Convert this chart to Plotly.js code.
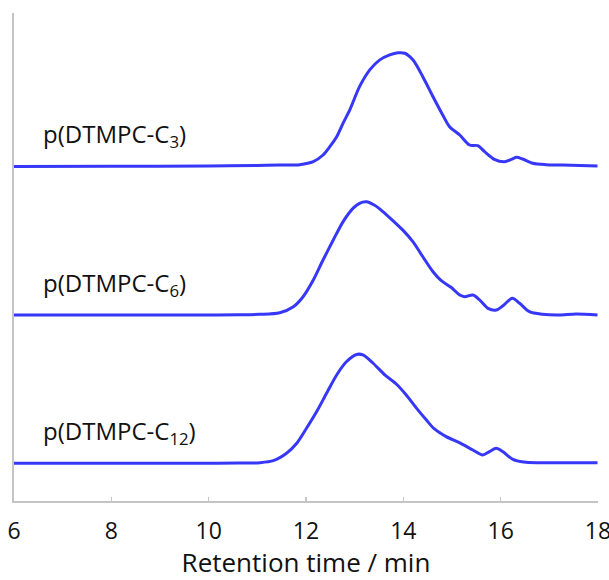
<!DOCTYPE html>
<html>
<head>
<meta charset="utf-8">
<script src="https://cdn.plot.ly/plotly-3.0.1.min.js"></script>
<style>html,body{margin:0;padding:0;background:#fff}#chart{width:609px;height:580px}</style>
</head>
<body>
<div id="chart"></div>
<script>
// Sample names
const sampleNames = ['p(DTMPC-C<sub>3</sub>)', 'p(DTMPC-C<sub>6</sub>)', 'p(DTMPC-C<sub>12</sub>)'];
// Vertical offsets of each trace (stacked display)
const offsets = [68.65, 38.11, 7.73];

// Retention time (min) and relative intensity per sample
const timeC3 = [6.0, 8.0, 10.0, 11.0, 11.46, 11.87, 12.15, 12.35, 12.49, 12.63, 12.76, 12.90, 13.10, 13.31, 13.51, 13.72, 13.89, 14.03, 14.20, 14.40, 14.61, 14.81, 14.95, 15.16, 15.36, 15.53, 15.67, 15.87, 16.08, 16.22, 16.33, 16.45, 16.66, 16.93, 17.27, 17.99];
const signalC3 = [-0.1, -0.05, 0.0, 0.1, 0.2, 0.27, 0.88, 2.25, 3.95, 6.0, 8.75, 11.5, 16.25, 19.7, 21.7, 22.75, 23.2, 23.1, 21.7, 18.3, 14.2, 10.45, 8.05, 6.35, 4.3, 4.16, 2.93, 1.37, 0.88, 1.37, 1.78, 1.43, 0.55, 0.27, 0.2, 0.0];

const timeC6 = [6.0, 8.0, 10.0, 10.6, 11.05, 11.46, 11.74, 11.94, 12.15, 12.35, 12.56, 12.76, 12.97, 13.10, 13.24, 13.41, 13.58, 13.79, 13.99, 14.20, 14.40, 14.61, 14.78, 14.98, 15.16, 15.26, 15.43, 15.57, 15.74, 15.91, 16.04, 16.24, 16.39, 16.59, 16.86, 17.20, 17.55, 17.99];
const signalC6 = [0.0, 0.0, 0.0, 0.05, 0.14, 0.47, 1.7, 3.75, 7.17, 11.27, 15.37, 19.1, 21.9, 22.9, 23.2, 22.5, 21.2, 19.3, 17.4, 15.0, 11.95, 8.87, 7.03, 5.68, 4.1, 3.75, 4.1, 3.07, 1.37, 1.02, 1.84, 3.42, 2.4, 0.68, 0.14, 0.0, 0.2, 0.0];

const timeC12 = [6.0, 8.0, 10.0, 10.6, 11.05, 11.33, 11.60, 11.81, 12.01, 12.22, 12.42, 12.63, 12.83, 13.04, 13.17, 13.38, 13.62, 13.86, 14.06, 14.27, 14.47, 14.64, 14.88, 15.15, 15.43, 15.63, 15.77, 15.91, 16.04, 16.25, 16.52, 17.20, 17.99];
const signalC12 = [0.0, 0.0, 0.0, 0.04, 0.12, 0.53, 2.05, 4.1, 7.17, 10.6, 14.3, 18.1, 20.8, 22.3, 22.2, 20.5, 18.1, 16.2, 14.0, 11.3, 8.9, 7.03, 5.46, 4.23, 2.73, 1.7, 2.4, 3.07, 2.4, 0.82, 0.2, 0.12, 0.12];

const xTicks = [6, 8, 10, 12, 14, 16, 18];

const times = [timeC3, timeC6, timeC12];
const signals = [signalC3, signalC6, signalC12];

const lineColor = '#3737f7';
const axisColor = '#c4c4c4';
const font = 'Open Sans, sans-serif';

const traces = times.map((t, i) => ({
  x: t,
  y: signals[i].map(v => v + offsets[i]),
  type: 'scatter',
  mode: 'lines',
  line: {color: lineColor, width: 3, shape: 'spline', smoothing: 0.8},
  hoverinfo: 'skip',
  showlegend: false
}));

const annotations = sampleNames.map((name, i) => ({
  text: name,
  x: 6.56,
  y: offsets[i] + 6.4,
  xref: 'x', yref: 'y',
  xanchor: 'left', yanchor: 'middle',
  showarrow: false,
  font: {family: font, size: 24, color: '#111'}
}));

const layout = {
  width: 609,
  height: 580,
  margin: {l: 14, r: 11, t: 13, b: 79},
  paper_bgcolor: '#fff',
  plot_bgcolor: '#fff',
  xaxis: {
    range: [5.9999, 18.0001],
    tickvals: xTicks,
    ticktext: xTicks.map(String),
    showgrid: false,
    zeroline: false,
    showline: true,
    linecolor: axisColor,
    linewidth: 2,
    ticks: 'inside',
    ticklen: 4,
    tickwidth: 1.5,
    tickcolor: axisColor,
    ticklabelstandoff: 8,
    ticklabeloverflow: 'allow',
    tickfont: {family: font, size: 23, color: '#111'},
    title: {text: 'Retention time / min', font: {family: font, size: 26, color: '#111'}, standoff: 14}
  },
  yaxis: {
    range: [0, 100],
    showgrid: false,
    zeroline: false,
    showline: true,
    linecolor: axisColor,
    linewidth: 2,
    ticks: '',
    showticklabels: false
  },
  annotations: annotations
};

Plotly.newPlot('chart', traces, layout, {staticPlot: true, displayModeBar: false});
</script>
</body>
</html>
